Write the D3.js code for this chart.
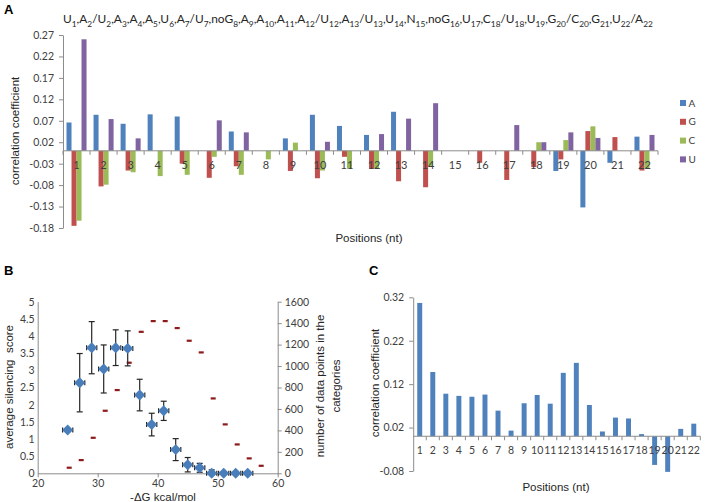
<!DOCTYPE html>
<html><head><meta charset="utf-8">
<script src="https://cdn.jsdelivr.net/npm/d3@7"></script>
<style>
body{margin:0;background:#fff}
svg{display:block}
text{font-family:"Liberation Sans",Arial,sans-serif;fill:#262626}
.tick text{font-family:Lato,"Liberation Sans",sans-serif;fill:#404040}
.domain,.tick line{stroke:#8c8c8c}
</style>
</head><body>
<svg id="c" width="708" height="502"></svg>
<script>
// ---------- data ----------
const positions = ["1","2","3","4","5","6","7","8","9","10","11","12","13","14","15","16","17","18","19","20","21","22"];
const seriesNames = ["A","G","C","U"];
const valuesA = [0.066,0.084,0.063,0.085,0.080,0,0.045,0,0.029,0.084,0.058,0.037,0.091,0,0,0,0,0,-0.047,-0.132,-0.028,0.033];
const valuesG = [-0.175,-0.083,-0.046,0,-0.030,-0.063,-0.036,0,-0.047,-0.064,-0.014,-0.042,-0.071,-0.085,0,-0.028,-0.068,-0.038,-0.020,0.046,0.032,-0.046];
const valuesC = [-0.163,-0.079,-0.050,-0.059,-0.056,-0.014,-0.056,-0.020,0.019,-0.046,-0.042,-0.042,0,-0.036,0,0,0,0.020,0.025,0.057,0,-0.042];
const valuesU = [0.260,0.074,0.029,0,0,0.071,0.043,0,0,0.021,0,0.039,0.075,0.111,0,0,0.060,0.020,0.043,0.030,0,0.037];
const yTicksA = [0.27,0.22,0.17,0.12,0.07,0.02,-0.03,-0.08,-0.13,-0.18];
const titleTokens = ["U1","A2/U2","A3","A4","A5","U6","A7/U7","noG8","A9","A10","A11","A12/U12","A13/U13","U14","N15","noG16","U17","C18/U18","U19","G20/C20","G21","U22/A22"];

const overallC = [0.307,0.148,0.098,0.093,0.091,0.096,0.059,0.013,0.076,0.095,0.075,0.146,0.169,0.072,0.011,0.043,0.041,0.005,-0.066,-0.082,0.017,0.029];
const yTicksC = [0.32,0.22,0.12,0.02,-0.08];

const dgBins = [25,27,29,31,33,35,37,39,41,43,45,47,49,51,53,55];
const silencing = [1.26,2.64,3.66,3.04,3.66,3.64,2.28,1.42,1.82,0.69,0.25,0.16,0.0,0.0,0.0,0.0];
const silErr = [0.04,0.85,0.76,0.70,0.52,0.51,0.46,0.33,0.28,0.32,0.21,0.13,0.10,0,0,0];
const dgErr = [0.85,0.85,0.85,0.85,0.85,0.85,0.85,0.85,0.85,0.85,0.85,0.85,0.85,0.85,0.85,0.85];
const countX = [25.25,27.25,29.25,31.25,33.25,35.25,37.25,39.25,41.25,43.25,45.25,47.25,49.25,51.25,53.25,55.25,57.25];
const counts = [53,124,332,584,777,1032,1320,1420,1420,1355,1237,1128,699,457,270,140,71];
const xTicksB = [20,30,40,50,60];
const yTicksB = [0,0.5,1,1.5,2,2.5,3,3.5,4,4.5,5];
const yTicksB2 = [0,200,400,600,800,1000,1200,1400,1600];

// ---------- drawing ----------
const svg = d3.select("#c");
const colors = {A:"#4F81BD",G:"#C0504D",C:"#9BBB59",U:"#8064A2"};
const seriesData = {A:valuesA,G:valuesG,C:valuesC,U:valuesU};

function panelLabel(t,x,y){
  svg.append("text").attr("x",x).attr("y",y).text(t)
    .style("font-weight","bold").style("font-size","13px").style("fill","#000");
}
function rotLabel(t,cx,cy,size){
  svg.append("text").attr("transform",`translate(${cx+size*0.35},${cy}) rotate(-90)`)
    .attr("text-anchor","middle").style("font-size",size+"px").style("white-space","pre").text(t);
}

// ===== Panel A =====
panelLabel("A",4,14);
const xA = d3.scaleBand().domain(positions).range([63,658]);
const xAs = d3.scaleBand().domain(seriesNames).range([0,xA.bandwidth()]).paddingOuter(0.7);
const yA = d3.scaleLinear().domain([-0.18,0.27]).range([228,35]);

// title with subscripts
const title = svg.append("text").attr("x",63).attr("y",23)
  .style("font-family","Lato,'Liberation Sans',sans-serif").style("font-size","15px").style("fill","#262626");
titleTokens.forEach((tok,ti)=>{
  const parts = [...tok.matchAll(/(\D+)(\d+)/g)];
  parts.forEach((m,pi)=>{
    const pre = (pi===0 && ti>0 ? "," : "") + m[1];
    title.append("tspan").attr("class","n").text(pre).attr("dy", (ti>0||pi>0)? -4 : 0);
    title.append("tspan").attr("class","s").text(m[2]).attr("dy",4).style("font-size","10.5px");
  });
});
{
  const w = title.node().getBBox().width;
  const f = 590 / w;
  title.style("font-size",(15*f)+"px");
  title.selectAll("tspan.s").style("font-size",(10.5*f)+"px");
}

const gA = svg.append("g").attr("transform","translate(63,0)")
  .call(d3.axisLeft(yA).tickValues(yTicksA).tickFormat(d=>d.toFixed(2)).tickSize(4).tickSizeOuter(0).tickPadding(5));
gA.selectAll("text").style("font-size","10.5px");

seriesNames.forEach(s=>{
  svg.append("g").selectAll("rect").data(seriesData[s].map((v,i)=>({v,p:positions[i]})))
    .join("rect")
    .attr("x",d=>xA(d.p)+xAs(s))
    .attr("width",xAs.bandwidth())
    .attr("y",d=>yA(Math.max(0,d.v)))
    .attr("height",d=>Math.abs(yA(d.v)-yA(0)))
    .attr("fill",colors[s]);
});
svg.append("line").attr("x1",63).attr("x2",658).attr("y1",yA(0)).attr("y2",yA(0)).attr("stroke","#8c8c8c");
svg.append("g").selectAll("line").data(positions.concat(["end"])).join("line")
  .attr("x1",d=>d==="end"?658:xA(d)).attr("x2",d=>d==="end"?658:xA(d))
  .attr("y1",yA(0)).attr("y2",yA(0)+4).attr("stroke","#8c8c8c");
svg.append("g").selectAll("text").data(positions).join("text")
  .attr("x",d=>xA(d)+xA.bandwidth()/2).attr("y",yA(0)+18)
  .attr("text-anchor","middle").style("font-family","Lato,sans-serif").style("font-size","11px").style("fill","#404040")
  .text(d=>d);
svg.append("text").attr("x",369).attr("y",242).attr("text-anchor","middle").style("font-size","11.5px").text("Positions (nt)");
rotLabel("correlation coefficient",15,131,11.5);

const leg = svg.append("g").selectAll("g").data(seriesNames).join("g")
  .attr("transform",(d,i)=>`translate(680,${100+i*18.8})`);
leg.append("rect").attr("width",6).attr("height",6).attr("fill",d=>colors[d]);
leg.append("text").attr("x",8.5).attr("y",6.5).style("font-family","Lato,sans-serif").style("font-size","10px").style("fill","#404040").text(d=>d);

// ===== Panel B =====
panelLabel("B",4,275);
const xB = d3.scaleLinear().domain([20,60]).range([37.7,277.7]);
const yB = d3.scaleLinear().domain([0,5]).range([473.3,301.7]);
const yB2 = d3.scaleLinear().domain([0,1600]).range([473.3,301.7]);

const gBx = svg.append("g").attr("transform","translate(0,473.3)")
  .call(d3.axisBottom(xB).tickValues(xTicksB).tickSize(4).tickSizeOuter(0).tickPadding(2));
const gBy = svg.append("g").attr("transform","translate(37.7,0)")
  .call(d3.axisLeft(yB).tickValues(yTicksB).tickFormat(d=>String(d)).tickSize(0).tickPadding(3));
const gBy2 = svg.append("g").attr("transform","translate(277.7,0)")
  .call(d3.axisRight(yB2).tickValues(yTicksB2).tickFormat(d=>String(d)).tickSize(4).tickSizeOuter(0).tickPadding(3));
[gBx,gBy,gBy2].forEach(g=>g.selectAll("text").style("font-size","10.5px"));

svg.append("g").selectAll("rect").data(countX.map((x,i)=>({x,c:counts[i]}))).join("rect")
  .attr("x",d=>xB(d.x)-2.5).attr("y",d=>yB2(d.c)-1).attr("width",5).attr("height",2.2)
  .attr("fill","#8e1b1b");

const bd = dgBins.map((x,i)=>({x,y:silencing[i],ey:silErr[i],ex:dgErr[i]}));
const eb = svg.append("g").attr("stroke","#262626").attr("stroke-width",1.2);
bd.forEach(d=>{
  if(d.ey>0){
    eb.append("line").attr("x1",xB(d.x)).attr("x2",xB(d.x)).attr("y1",yB(d.y+d.ey)).attr("y2",yB(Math.max(0,d.y-d.ey)));
    eb.append("line").attr("x1",xB(d.x)-3).attr("x2",xB(d.x)+3).attr("y1",yB(d.y+d.ey)).attr("y2",yB(d.y+d.ey));
    if(d.y-d.ey>0) eb.append("line").attr("x1",xB(d.x)-3).attr("x2",xB(d.x)+3).attr("y1",yB(d.y-d.ey)).attr("y2",yB(d.y-d.ey));
  }
  eb.append("line").attr("x1",xB(d.x-d.ex)).attr("x2",xB(d.x+d.ex)).attr("y1",yB(d.y)).attr("y2",yB(d.y));
  [-1,1].forEach(k=>eb.append("line").attr("x1",xB(d.x+k*d.ex)).attr("x2",xB(d.x+k*d.ex)).attr("y1",yB(d.y)-2.5).attr("y2",yB(d.y)+2.5));
});
svg.append("g").selectAll("path").data(bd).join("path")
  .attr("d",d3.symbol(d3.symbolSquare,60))
  .attr("transform",d=>`translate(${xB(d.x)},${yB(d.y)}) rotate(45)`)
  .attr("fill","#4a7ebb");

svg.append("text").attr("x",163).attr("y",501).attr("text-anchor","middle").style("font-size","11.5px").text("-\u0394G kcal/mol");
rotLabel("average silencing  score",9,387,11.5);
rotLabel("number of data points in the",320,386,11.5);
rotLabel("categories",335.5,386,11.5);

// ===== Panel C =====
panelLabel("C",369,275);
const xC = d3.scaleBand().domain(positions).range([413.2,700.3]).paddingInner(0.62).paddingOuter(0.31);
const yC = d3.scaleLinear().domain([-0.08,0.32]).range([471,297.3]);
const gC = svg.append("g").attr("transform","translate(413.2,0)")
  .call(d3.axisLeft(yC).tickValues(yTicksC).tickFormat(d=>d.toFixed(2)).tickSize(4).tickSizeOuter(0).tickPadding(5));
gC.selectAll("text").style("font-size","10.5px");
svg.append("g").selectAll("rect").data(overallC.map((v,i)=>({v,p:positions[i]}))).join("rect")
  .attr("x",d=>xC(d.p)).attr("width",xC.bandwidth())
  .attr("y",d=>yC(Math.max(0,d.v))).attr("height",d=>Math.abs(yC(d.v)-yC(0)))
  .attr("fill","#4F81BD");
const stepC = xC.step();
svg.append("line").attr("x1",413.2).attr("x2",700.3).attr("y1",yC(0)).attr("y2",yC(0)).attr("stroke","#8c8c8c");
svg.append("g").selectAll("line").data(positions).join("line")
  .attr("x1",d=>xC(d)+xC.bandwidth()/2+stepC/2).attr("x2",d=>xC(d)+xC.bandwidth()/2+stepC/2)
  .attr("y1",yC(0)).attr("y2",yC(0)+4).attr("stroke","#8c8c8c");
svg.append("g").selectAll("text").data(positions).join("text")
  .attr("x",d=>xC(d)+xC.bandwidth()/2).attr("y",yC(0)+18)
  .attr("text-anchor","middle").style("font-family","Lato,sans-serif").style("font-size","10.5px").style("fill","#404040")
  .text(d=>d);
svg.append("text").attr("x",556).attr("y",491).attr("text-anchor","middle").style("font-size","11.5px").text("Positions (nt)");
rotLabel("correlation coefficient",375,383,11.5);
</script>
</body></html>
